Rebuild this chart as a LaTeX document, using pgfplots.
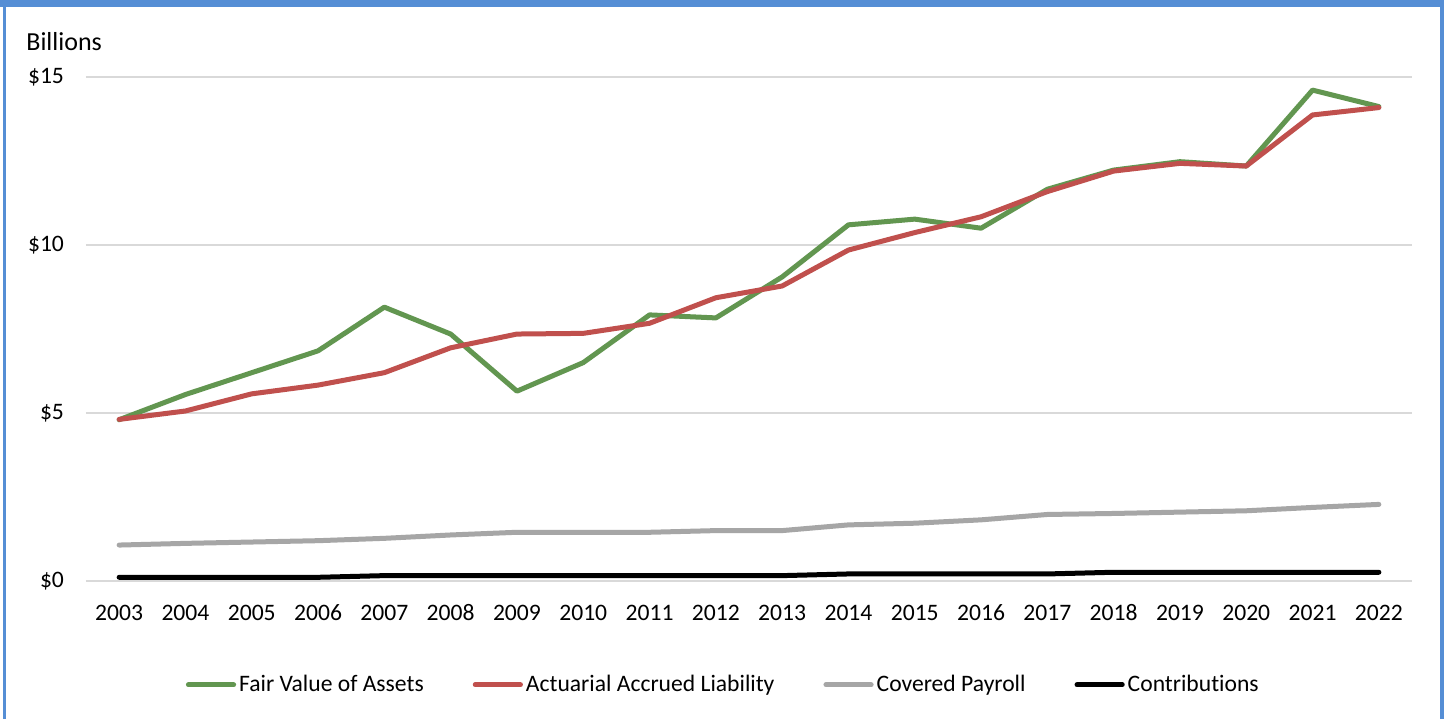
\documentclass[border=0pt]{standalone}
\usepackage{fontspec}
\setmainfont{Carlito}[Ligatures=NoCommon]
\usepackage{pgfplots}
\pgfplotsset{compat=1.18}
\definecolor{cGreen}{RGB}{98,150,80}
\definecolor{cRed}{RGB}{192,80,77}
\definecolor{cGray}{RGB}{166,166,166}
\definecolor{cBorder}{RGB}{85,142,213}
\definecolor{cGrid}{RGB}{217,217,217}
\begin{document}
\begin{tikzpicture}[x=1pt,y=1pt]
\fill[white] (0,0) rectangle (722,359.5);
\fill[cBorder] (0,356) rectangle (722,359.5);
\fill[cBorder] (1.5,0) rectangle (3,359.5);
\fill[cBorder] (720,0) rectangle (722,359.5);
\node[anchor=west, inner sep=0pt, font=\fontsize{13}{15}\selectfont] at (13,338.5) {Billions};
\begin{axis}[
  at={(43pt,69pt)}, anchor=south west,
  scale only axis, width=663pt, height=252pt,
  xmin=-0.5, xmax=19.5, ymin=0, ymax=15,
  xtick={0,...,19},
  xticklabels={2003,2004,2005,2006,2007,2008,2009,2010,2011,2012,2013,2014,2015,2016,2017,2018,2019,2020,2021,2022},
  ytick={0,5,10,15},
  yticklabels={\$0,\$5,\$10,\$15},
  ymajorgrids, major grid style={cGrid, line width=0.7pt},
  axis line style={draw=none},
  major tick length=0pt,
  tick label style={font=\fontsize{11.8}{14}\selectfont},
  y tick label style={xshift=-7.5pt},
  x tick label style={yshift=-8pt, text height=8.2pt, text depth=0pt},
  /pgf/number format/assume math mode=true,
  clip=false,
  legend columns=4,
  legend style={at={(0.481,-0.206)}, anchor=center, draw=none, fill=none,
    font=\fontsize{11.8}{14}\selectfont,
    nodes={inner xsep=1.5pt},
    /tikz/every even column/.append style={column sep=23pt}},
  legend image code/.code={\draw[#1, line width=2.5pt, line cap=round] (1.2pt,0pt) -- (23.8pt,0pt);},
  every axis plot/.append style={line width=2.5pt, line join=round, line cap=round},
]
\addplot[cGreen] coordinates {(0,4.80)(1,5.55)(2,6.20)(3,6.85)(4,8.15)(5,7.35)(6,5.65)(7,6.50)(8,7.92)(9,7.83)(10,9.05)(11,10.60)(12,10.77)(13,10.50)(14,11.66)(15,12.23)(16,12.48)(17,12.35)(18,14.61)(19,14.12)};
\addlegendentry{Fair Value of Assets}
\addplot[cRed] coordinates {(0,4.81)(1,5.06)(2,5.57)(3,5.83)(4,6.20)(5,6.94)(6,7.35)(7,7.37)(8,7.67)(9,8.43)(10,8.78)(11,9.85)(12,10.37)(13,10.84)(14,11.59)(15,12.20)(16,12.43)(17,12.35)(18,13.87)(19,14.09)};
\addlegendentry{Actuarial Accrued Liability}
\addplot[cGray] coordinates {(0,1.07)(1,1.12)(2,1.16)(3,1.20)(4,1.27)(5,1.37)(6,1.45)(7,1.45)(8,1.45)(9,1.50)(10,1.50)(11,1.67)(12,1.72)(13,1.82)(14,1.98)(15,2.01)(16,2.05)(17,2.09)(18,2.19)(19,2.28)};
\addlegendentry{Covered Payroll}
\addplot[black] coordinates {(0,0.11)(1,0.11)(2,0.11)(3,0.11)(4,0.16)(5,0.16)(6,0.16)(7,0.16)(8,0.16)(9,0.16)(10,0.16)(11,0.21)(12,0.21)(13,0.21)(14,0.21)(15,0.26)(16,0.26)(17,0.26)(18,0.26)(19,0.26)};
\addlegendentry{Contributions}
\end{axis}
\end{tikzpicture}
\end{document}
